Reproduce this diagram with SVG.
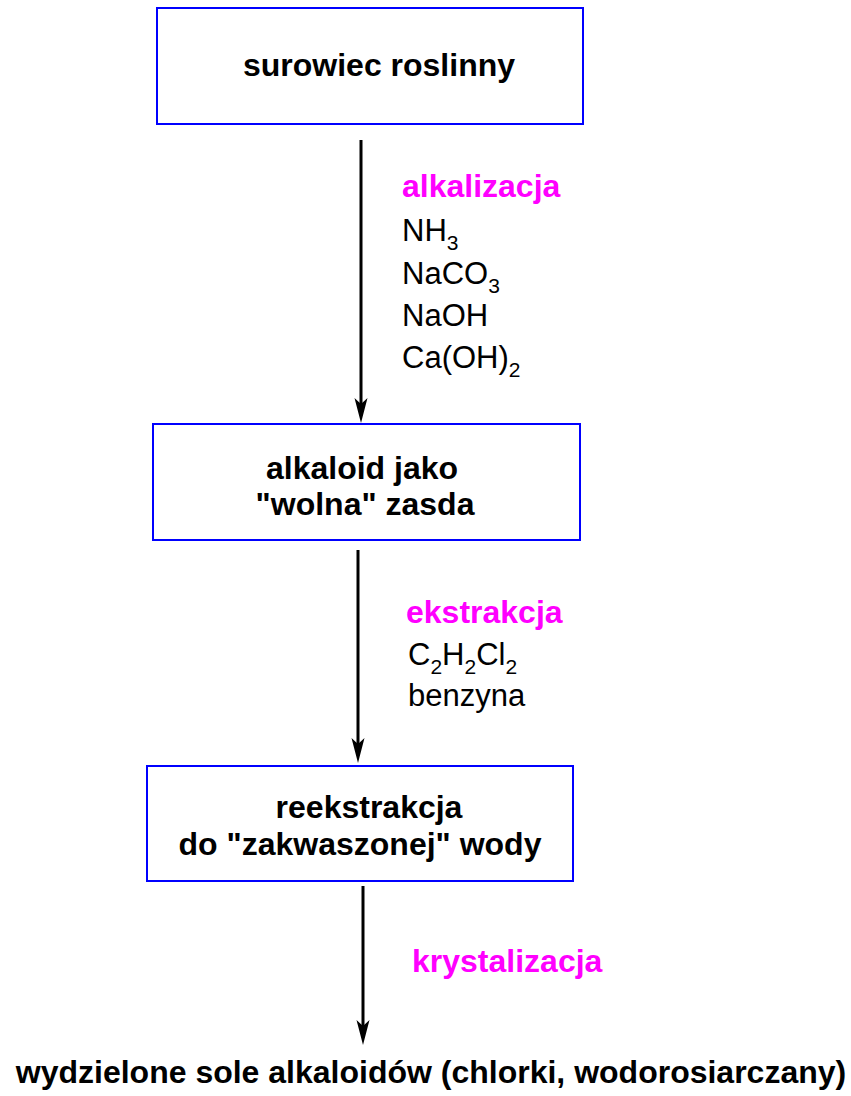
<svg xmlns="http://www.w3.org/2000/svg" width="851" height="1096" viewBox="0 0 851 1096">
  <defs>
    <style>
      .box { fill: #ffffff; stroke: #0000ff; stroke-width: 2; }
      .title { font-family: "Liberation Sans", Arial, sans-serif; font-weight: bold; font-size: 32px; fill: #000000; text-anchor: middle; }
      .step { font-family: "Liberation Sans", Arial, sans-serif; font-weight: bold; font-size: 32px; fill: #ff00ff; }
      .reagent { font-family: "Liberation Sans", Arial, sans-serif; font-size: 31px; fill: #000000; }
      .sub { font-size: 21px; }
      .flow { stroke: #000000; stroke-width: 3; fill: none; }
      .head { fill: #000000; stroke: none; }
    </style>
  </defs>
  <rect width="851" height="1096" fill="#ffffff"/>

  <!-- process boxes -->
  <g id="node-surowiec">
    <rect class="box" x="157" y="8" width="426" height="116"/>
    <text class="title" x="379" y="76">surowiec roslinny</text>
  </g>

  <g id="node-alkaloid">
    <rect class="box" x="153" y="424" width="427" height="116"/>
    <text class="title" x="362" y="479">alkaloid jako</text>
    <text class="title" x="365" y="515">"wolna" zasda</text>
  </g>

  <g id="node-reekstrakcja">
    <rect class="box" x="147" y="766" width="426" height="115"/>
    <text class="title" x="369" y="818">reekstrakcja</text>
    <text class="title" x="360" y="855">do "zakwaszonej" wody</text>
  </g>

  <g id="node-sole">
    <text class="title" x="431" y="1083">wydzielone sole alkaloidów (chlorki, wodorosiarczany)</text>
  </g>

  <!-- connectors -->
  <g id="connectors">
    <line class="flow" x1="361" y1="140" x2="361" y2="405"/>
    <path class="head" d="M361,423 L354.5,398 L361,404 L367.5,398 Z"/>

    <line class="flow" x1="358" y1="550" x2="358" y2="745"/>
    <path class="head" d="M358,763 L351.5,738 L358,744 L364.5,738 Z"/>

    <line class="flow" x1="363" y1="886" x2="363" y2="1027"/>
    <path class="head" d="M363,1045 L356.5,1020 L363,1026 L369.5,1020 Z"/>
  </g>

  <!-- step labels -->
  <g id="label-alkalizacja">
    <text class="step" x="402" y="197">alkalizacja</text>
    <text class="reagent" x="402" y="241">NH<tspan class="sub" dy="9">3</tspan></text>
    <text class="reagent" x="402" y="284">NaCO<tspan class="sub" dy="9">3</tspan></text>
    <text class="reagent" x="402" y="326">NaOH</text>
    <text class="reagent" x="402" y="368">Ca(OH)<tspan class="sub" dy="9">2</tspan></text>
  </g>

  <g id="label-ekstrakcja">
    <text class="step" x="406" y="623">ekstrakcja</text>
    <text class="reagent" x="408" y="665">C<tspan class="sub" dy="9">2</tspan><tspan dy="-9">H</tspan><tspan class="sub" dy="9">2</tspan><tspan dy="-9">Cl</tspan><tspan class="sub" dy="9">2</tspan></text>
    <text class="reagent" x="408" y="706">benzyna</text>
  </g>

  <g id="label-krystalizacja">
    <text class="step" x="412" y="972">krystalizacja</text>
  </g>
</svg>
